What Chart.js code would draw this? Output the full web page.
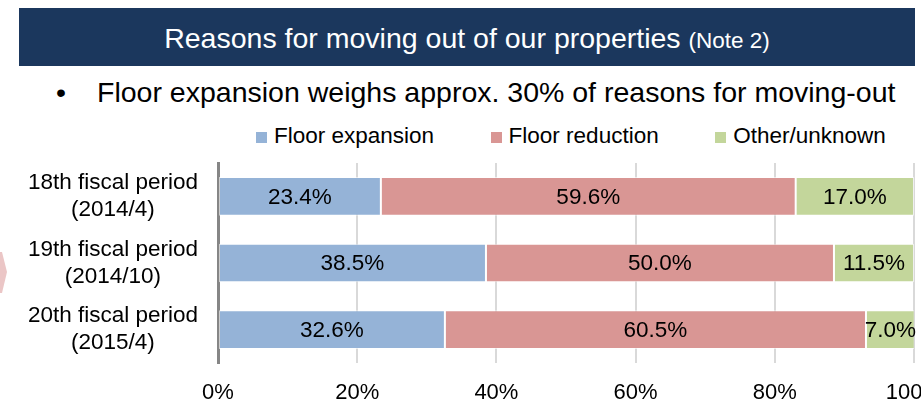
<!DOCTYPE html>
<html lang="en">
<head>
    <meta charset="UTF-8">
    <title>Reasons for moving out of our properties</title>
    <script src="https://cdn.jsdelivr.net/npm/chart.js"></script>
    <style>
        html, body {
            margin: 0;
            padding: 0;
            width: 921px;
            height: 401px;
            overflow: hidden;
            background: #fff;
            font-family: "Liberation Sans", Arial, sans-serif;
            color: #000;
        }
        .header {
            position: absolute;
            left: 19px;
            top: 8px;
            width: 896px;
            height: 58px;
            background: #1b375d;
            color: #fff;
            text-align: center;
            font-size: 28.5px;
            line-height: 58px;
            white-space: nowrap;
        }
        .header .inner { position: relative; top: 1px; }
        .header small { font-size: 22.5px; }
        .bullet-dot, .bullet-text {
            position: absolute;
            top: 75px;
            font-size: 28.5px;
            line-height: 34px;
            white-space: nowrap;
        }
        .bullet-dot { left: 56px; }
        .bullet-text { left: 97px; }
        .chevron { position: absolute; left: 0; top: 250px; }
        #legend {
            position: absolute;
            left: 256px;
            top: 123px;
            display: flex;
            font-size: 22.5px;
            line-height: 26px;
            white-space: nowrap;
        }
        #legend .item { display: flex; align-items: center; margin-right: 56.5px; }
        #legend .box { width: 11px; height: 11px; margin-right: 7px; position: relative; top: 1px; }
        #wrap {
            position: absolute;
            left: 0;
            top: 113px;
            width: 960px;
            height: 297px;
        }
    </style>
</head>
<body>
    <div class="header"><span class="inner">Reasons for moving out of our properties <small>(Note 2)</small></span></div>
    <span class="bullet-dot">&bull;</span>
    <span class="bullet-text">Floor expansion weighs approx. 30% of reasons for moving-out</span>

    <!-- little pink arrow on the left edge -->
    <svg class="chevron" width="10" height="46">
        <polygon points="0,2 2,2 7,22 2,43 0,43" fill="#ebc6c6"></polygon>
    </svg>

    <div id="legend"></div>
    <div id="wrap"><canvas id="chart"></canvas></div>

    <script>
        // data
        const periods = [
            ['18th fiscal period', '(2014/4)'],
            ['19th fiscal period', '(2014/10)'],
            ['20th fiscal period', '(2015/4)']
        ];
        const floorExpansion = [23.4, 38.5, 32.6];
        const floorReduction = [59.6, 50.0, 60.5];
        const otherUnknown = [17.0, 11.5, 7.0];
        const xTicks = [0, 20, 40, 60, 80, 100];

        const FONT = '"Liberation Sans", Arial, sans-serif';

        // draws the percentage in the middle of each segment
        const barLabels = {
            id: 'barLabels',
            afterDatasetsDraw(chart) {
                const ctx = chart.ctx;
                ctx.save();
                ctx.font = '22.5px ' + FONT;
                ctx.fillStyle = '#000';
                ctx.textAlign = 'center';
                ctx.textBaseline = 'middle';
                chart.data.datasets.forEach((ds, i) => {
                    chart.getDatasetMeta(i).data.forEach((bar, j) => {
                        const p = bar.getProps(['x', 'y', 'base'], true);
                        ctx.fillText(ds.data[j].toFixed(1) + '%', (p.x + p.base) / 2, p.y + 1);
                    });
                });
                ctx.restore();
            }
        };

        const seg = { borderColor: 'rgba(255,255,255,0.6)', borderWidth: 1, borderSkipped: false };

        const chart = new Chart(document.getElementById('chart'), {
            type: 'bar',
            data: {
                labels: periods,
                datasets: [
                    Object.assign({ label: 'Floor expansion', data: floorExpansion, backgroundColor: '#95b3d7' }, seg),
                    Object.assign({ label: 'Floor reduction', data: floorReduction, backgroundColor: '#d99694' }, seg),
                    Object.assign({ label: 'Other/unknown', data: otherUnknown, backgroundColor: '#c3d69b' }, seg)
                ]
            },
            options: {
                indexAxis: 'y',
                responsive: true,
                maintainAspectRatio: false,
                animation: false,
                barPercentage: 0.58,
                categoryPercentage: 1,
                // top padding is larger than the two-line labels need, so chartArea.top is fixed
                layout: { padding: { top: 50, right: 46, left: 0, bottom: 0 } },
                plugins: {
                    legend: { display: false },
                    tooltip: { enabled: false }
                },
                scales: {
                    x: {
                        stacked: true,
                        min: xTicks[0],
                        max: xTicks[xTicks.length - 1],
                        afterBuildTicks: (scale) => { scale.ticks = xTicks.map(v => ({ value: v })); },
                        afterFit: (scale) => { scale.height = 47; },
                        grid: { color: '#d9d9d9', lineWidth: 2, drawTicks: false },
                        border: { display: false },
                        ticks: {
                            padding: 17,
                            color: '#000',
                            font: { family: FONT, size: 22 },
                            callback: (v) => v + '%'
                        }
                    },
                    y: {
                        stacked: true,
                        afterFit: (scale) => { scale.width = 218; },
                        grid: { display: false, drawTicks: false },
                        border: { display: true, color: '#868686', width: 3 },
                        ticks: {
                            padding: 20,
                            crossAlign: 'center',
                            color: '#000',
                            font: { family: FONT, size: 22.5, lineHeight: 1.2 }
                        }
                    }
                }
            },
            plugins: [barLabels]
        });

        // legend built from the chart's own datasets
        const legendEl = document.getElementById('legend');
        chart.data.datasets.forEach(ds => {
            const item = document.createElement('span');
            item.className = 'item';
            const box = document.createElement('span');
            box.className = 'box';
            box.style.background = ds.backgroundColor;
            item.appendChild(box);
            item.appendChild(document.createTextNode(ds.label));
            legendEl.appendChild(item);
        });
    </script>
</body>
</html>
